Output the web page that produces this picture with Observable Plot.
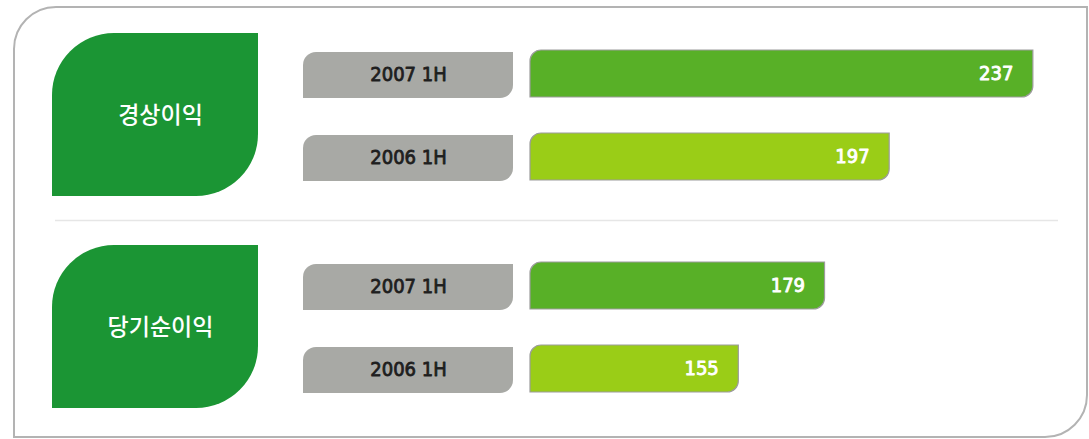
<!DOCTYPE html>
<html>
<head>
<meta charset="utf-8">
<script src="https://cdn.jsdelivr.net/npm/d3@7"></script>
<script src="https://cdn.jsdelivr.net/npm/@observablehq/plot@0.6"></script>
<style>
  html, body { margin: 0; padding: 0; background: #ffffff; }
  #chart { width: 1089px; height: 439px; }
</style>
</head>
<body>
<div id="chart"></div>
<script>
// ---- data ----
const metrics = ["경상이익", "당기순이익"];
const periods = ["2007 1H", "2006 1H"];
const ordinaryIncome = [237, 197];
const netIncome = [179, 155];

// ---- style ----
const barColors = ["#58b027", "#9acd17"];
const leafColor = "#1b9534";
const boxColor = "#a8a9a5";
const xDomain = [97, 244];

const rows = [];
[ordinaryIncome, netIncome].forEach((vals, i) => {
  vals.forEach((v, j) => rows.push({metric: metrics[i], period: periods[j], value: v}));
});

const condensed = "'DejaVu Sans Condensed', 'Liberation Sans Narrow', sans-serif";

const chart = Plot.plot({
  width: 1089,
  height: 439,
  marginLeft: 530,
  marginRight: 31,
  marginTop: 18,
  marginBottom: 17,
  style: {background: "#ffffff", fontFamily: condensed, overflow: "visible"},
  x: {domain: xDomain, clamp: true, axis: null},
  y: {domain: periods, paddingInner: 0.434, paddingOuter: 0.367, axis: null},
  fy: {domain: metrics, padding: 0.1, axis: null},
  color: {domain: periods, range: barColors},
  marks: [
    Plot.barX(rows, {fy: "metric", y: "period", x: "value", fill: "period", stroke: "#9c9c9c", strokeWidth: 1.2}),
    Plot.text(rows, {fy: "metric", y: "period", x: "value", text: d => String(d.value), textAnchor: "end", dx: -20, dy: 0, fill: "#ffffff", stroke: "#ffffff", strokeWidth: 0.9, fontSize: 20, fontFamily: condensed}),
    Plot.text(rows, {fy: "metric", y: "period", text: "period", frameAnchor: "left", dx: -122, dy: 1, textAnchor: "middle", fill: "#1e1e1e", stroke: "#1e1e1e", strokeWidth: 0.8, fontSize: 20, fontFamily: condensed}),
    Plot.text(metrics, {fy: d => d, text: d => d, frameAnchor: "left", dx: -370, dy: 1, textAnchor: "middle", fill: "#ffffff", fontSize: 23, fontWeight: 500, fontFamily: "'Noto Sans CJK KR', sans-serif"})
  ]
});
document.getElementById("chart").appendChild(chart);

// ---- decorations derived from the library's scales ----
const ns = "http://www.w3.org/2000/svg";
function leafPath(x, y, w, h, r) {
  return `M${x},${y + h}L${x},${y + r}A${r},${r} 0 0 1 ${x + r},${y}L${x + w},${y}L${x + w},${y + h - r}A${r},${r} 0 0 1 ${x + w - r},${y + h}Z`;
}
function mkPath(d, attrs) {
  const p = document.createElementNS(ns, "path");
  p.setAttribute("d", d);
  for (const k in attrs) p.setAttribute(k, attrs[k]);
  return p;
}

const xs = chart.scale("x");
const fys = chart.scale("fy");
const x0 = xs.range[0];

// bars -> leaf-cornered bars, plus grey label boxes behind labels
const rects = Array.from(chart.querySelectorAll('g[aria-label="bar"] rect'));
rects.forEach(rect => {
  const x = +rect.getAttribute("x"), y = +rect.getAttribute("y");
  const w = +rect.getAttribute("width"), h = +rect.getAttribute("height");
  const fill = rect.getAttribute("fill");
  const bar = mkPath(leafPath(x, y, w, h, 11), {fill});
  const box = mkPath(leafPath(x0 - 227, y + 2, 210, h - 1, 13), {fill: boxColor, stroke: "none"});
  rect.parentNode.insertBefore(box, rect);
  rect.parentNode.replaceChild(bar, rect);
});

// green leaf panels, separator and frame
const bw = fys.bandwidth;
const deco = document.createElementNS(ns, "g");
deco.appendChild(mkPath(leafPath(14, 7, 1073, 430, 42), {fill: "none", stroke: "#b3b3b3", "stroke-width": 2}));
metrics.forEach(m => {
  const top = fys.apply(m);
  deco.appendChild(mkPath(leafPath(52, top + 14, 206, bw - 28, 62), {fill: leafColor}));
});
const sepY = (fys.apply(metrics[0]) + bw + fys.apply(metrics[1])) / 2;
deco.appendChild(mkPath(`M55,${sepY}L1058,${sepY}`, {stroke: "#e6e6e6", "stroke-width": 1.5, fill: "none"}));
const styleEl = chart.querySelector("style");
if (styleEl && styleEl.nextSibling) chart.insertBefore(deco, styleEl.nextSibling);
else chart.insertBefore(deco, chart.firstChild);
</script>
</body>
</html>
